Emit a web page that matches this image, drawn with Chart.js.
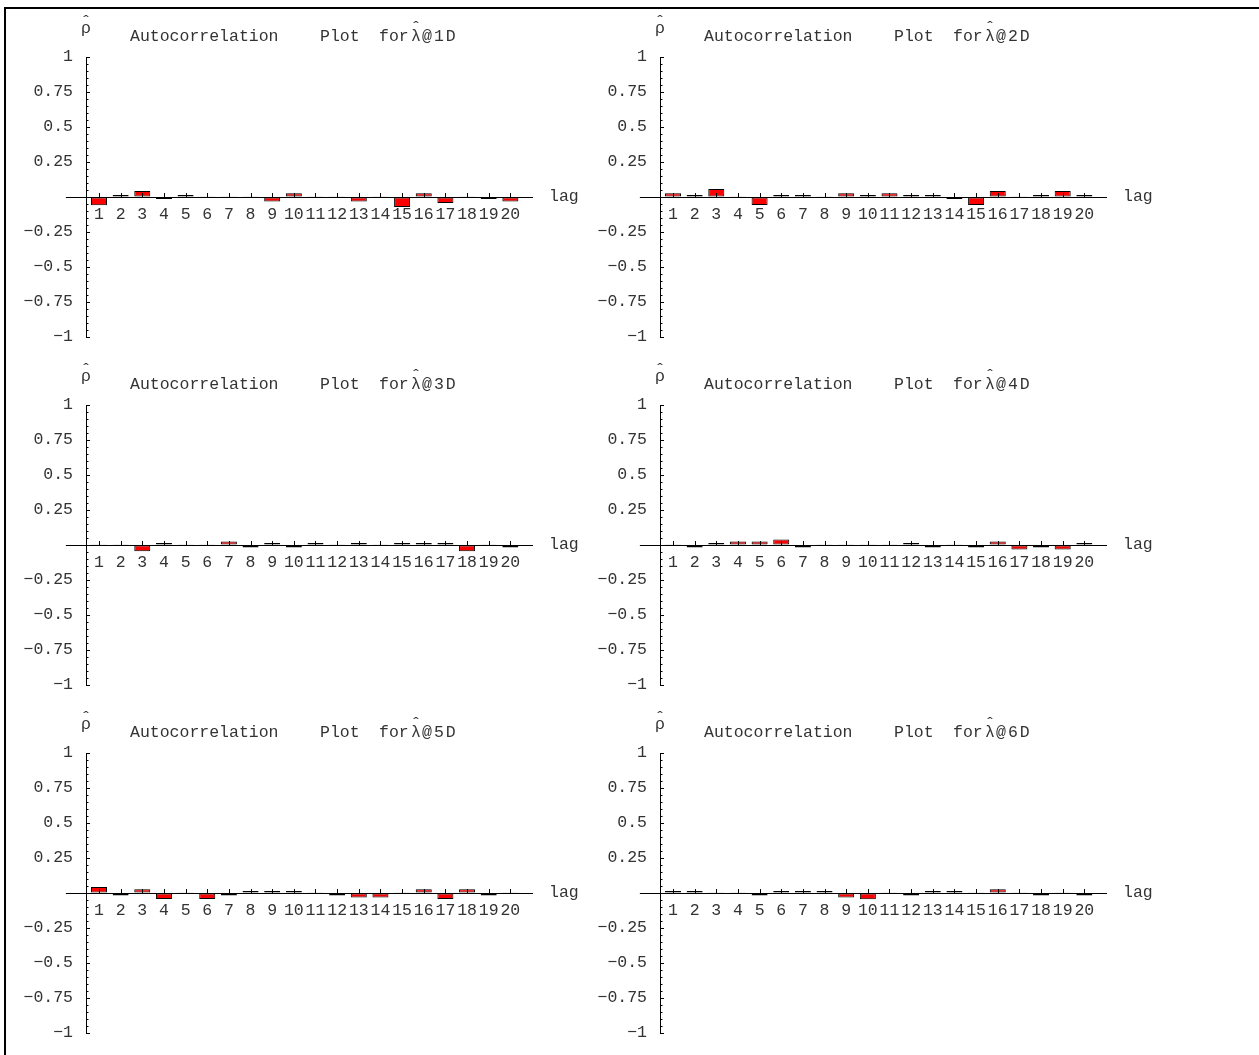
<!DOCTYPE html>
<html>
<head>
<meta charset="utf-8">
<script src="https://cdn.jsdelivr.net/npm/chart.js@4/dist/chart.umd.min.js"></script>
<style>
  html, body { margin: 0; padding: 0; background: #fff; }
  body { width: 1259px; height: 1055px; position: relative; overflow: hidden; }
  #frame { position: absolute; left: 4px; top: 7px; right: -10px; bottom: -10px;
           border-top: 2px solid #000; border-left: 2px solid #000; }
  canvas.panel { position: absolute; }
</style>
</head>
<body>
<div id="frame"></div>
<script>
// Sample autocorrelations of the six estimated lambda series, lags 1..20
const lags = [1, 2, 3, 4, 5, 6, 7, 8, 9, 10, 11, 12, 13, 14, 15, 16, 17, 18, 19, 20];
const lagLabels = ['1', '2', '3', '4', '5', '6', '7', '8', '9', '10', '11', '12', '13', '14', '15', '16', '17', '18', '19', '20'];

const acf1 = [-0.059, 0.014, 0.043, -0.014, 0.014, 0.003, 0.003, 0.003, -0.031, 0.028,
              0.003, 0.003, -0.031, 0.003, -0.071, 0.028, -0.043, 0.003, -0.014, -0.031];
const acf2 = [0.028, 0.014, 0.057, 0.003, -0.057, 0.014, 0.014, 0.003, 0.028, 0.014,
              0.028, 0.014, 0.014, -0.014, -0.057, 0.043, 0.003, 0.014, 0.043, 0.014];
const acf3 = [0.003, 0.003, -0.045, 0.014, 0.003, 0.003, 0.026, -0.017, 0.014, -0.017,
              0.014, 0.003, 0.014, 0.003, 0.014, 0.014, 0.014, -0.045, 0.003, -0.017];
const acf4 = [0.003, -0.017, 0.014, 0.026, 0.026, 0.040, -0.017, 0.003, 0.003, 0.003,
              0.003, 0.014, -0.017, 0.003, -0.017, 0.026, -0.031, -0.017, -0.031, 0.014];
const acf5 = [0.043, -0.017, 0.028, -0.043, 0.003, -0.043, -0.017, 0.014, 0.014, 0.014,
              0.003, -0.017, -0.031, -0.031, 0.003, 0.028, -0.043, 0.028, -0.017, 0.003];
const acf6 = [0.014, 0.014, 0.003, 0.003, -0.017, 0.014, 0.014, 0.014, -0.031, -0.045,
              0.003, -0.017, 0.014, 0.014, 0.003, 0.028, 0.003, -0.017, 0.003, -0.017];

const seriesIndex = ['1', '2', '3', '4', '5', '6'];
const seriesValues = [acf1, acf2, acf3, acf4, acf5, acf6];

const yTicks = [1, 0.75, 0.5, 0.25, 0, -0.25, -0.5, -0.75, -1];
const yTickLabels = ['1', '0.75', '0.5', '0.25', '', '\u22120.25', '\u22120.5', '\u22120.75', '\u22121'];

const FONT = '"Liberation Mono", "DejaVu Sans Mono", monospace';
const TEXT = '#333';
const PANEL_W = 600, PANEL_H = 360, COL_STEP = 574, ROW_STEP = 348;

// Mathematica-style axes: inward minor/major ticks, axis stub left of the
// vertical axis, the "lag" label and the panel heading.
const acfDecor = {
  id: 'acfDecor',
  afterDraw(chart, args, opts) {
    const ctx = chart.ctx;
    const xs = chart.scales.x, ys = chart.scales.y;
    const y0 = ys.getPixelForValue(0);
    const ax = chart.chartArea.left;
    ctx.save();
    ctx.strokeStyle = '#000';
    ctx.lineWidth = 1;
    ctx.beginPath();
    // x axis continues a little to the left of the vertical axis
    ctx.moveTo(xs.getPixelForValue(-0.53), Math.round(y0) + 0.5);
    ctx.lineTo(ax, Math.round(y0) + 0.5);
    // y ticks every 0.05, longer at every 0.25
    for (let i = -20; i <= 20; i++) {
      const py = Math.round(ys.getPixelForValue(i * 0.05)) + 0.5;
      const len = (i % 5 === 0) ? 4 : 2.5;
      ctx.moveTo(ax, py);
      ctx.lineTo(ax + len, py);
    }
    // x ticks above the axis at each lag
    lags.forEach(l => {
      const px = Math.round(xs.getPixelForValue(l)) + 0.5;
      ctx.moveTo(px, y0);
      ctx.lineTo(px, y0 - 4);
    });
    ctx.stroke();

    ctx.fillStyle = TEXT;
    ctx.font = '16.5px ' + FONT;
    ctx.textBaseline = 'alphabetic';
    ctx.textAlign = 'left';
    ctx.fillText('lag', 549, y0 + 4);

    // heading: rho-hat over the axis, then the plot title
    ctx.textAlign = 'center';
    ctx.fillText('\u03C1', ax, 33);
    ctx.fillText('\u02C6', ax, 27);
    ctx.textAlign = 'left';
    ctx.fillText('Autocorrelation', 130, 41);
    ctx.fillText('Plot', 320, 41);
    ctx.fillText('for', 379, 41);
    ctx.fillText('\u03BB', 411, 41);
    ctx.textAlign = 'center';
    ctx.fillText('\u02C6', 416, 33);
    ctx.textAlign = 'left';
    ctx.letterSpacing = '2px';
    ctx.fillText('@' + opts.tag + 'D', 422, 41);
    ctx.restore();
  }
};

seriesValues.forEach((vals, k) => {
  const col = k % 2, row = Math.floor(k / 2);
  const cv = document.createElement('canvas');
  cv.className = 'panel';
  cv.width = PANEL_W; cv.height = PANEL_H;
  cv.style.width = PANEL_W + 'px'; cv.style.height = PANEL_H + 'px';
  cv.style.left = (col * COL_STEP) + 'px';
  cv.style.top = (row * ROW_STEP) + 'px';
  document.body.appendChild(cv);

  new Chart(cv, {
    type: 'bar',
    data: {
      datasets: [{
        data: lags.map((l, i) => ({ x: l, y: vals[i] })),
        backgroundColor: '#ff0000',
        borderColor: '#000',
        borderWidth: 1,
        borderSkipped: false,
        barPercentage: 0.74,
        categoryPercentage: 1
      }]
    },
    options: {
      responsive: false,
      devicePixelRatio: 1,
      animation: false,
      events: [],
      layout: { padding: { top: 57, bottom: PANEL_H - 340, left: 0, right: PANEL_W - 532 } },
      plugins: {
        legend: { display: false },
        tooltip: { enabled: false },
        acfDecor: { tag: seriesIndex[k] }
      },
      scales: {
        x: {
          type: 'linear',
          position: { y: 0 },
          min: 0.4,
          max: 21,
          offset: false,
          grid: { display: true, drawOnChartArea: false, drawTicks: false },
          border: { display: true, color: '#000', width: 1 },
          afterBuildTicks: s => { s.ticks = lags.map(v => ({ value: v })); },
          ticks: {
            autoSkip: false,
            maxRotation: 0,
            padding: 8,
            color: TEXT,
            font: { family: FONT, size: 16.5 },
            callback: (v, i) => lagLabels[i]
          }
        },
        y: {
          type: 'linear',
          position: 'left',
          min: -1,
          max: 1,
          afterFit: s => { s.width = 86; },
          afterBuildTicks: s => { s.ticks = yTicks.map(v => ({ value: v })); },
          grid: { display: true, drawOnChartArea: false, drawTicks: false },
          border: { display: true, color: '#000', width: 1 },
          ticks: {
            autoSkip: false,
            padding: 13,
            color: TEXT,
            font: { family: FONT, size: 16.5 },
            callback: (v) => yTickLabels[yTicks.indexOf(v)]
          }
        }
      }
    },
    plugins: [acfDecor]
  });
});
</script>
</body>
</html>
